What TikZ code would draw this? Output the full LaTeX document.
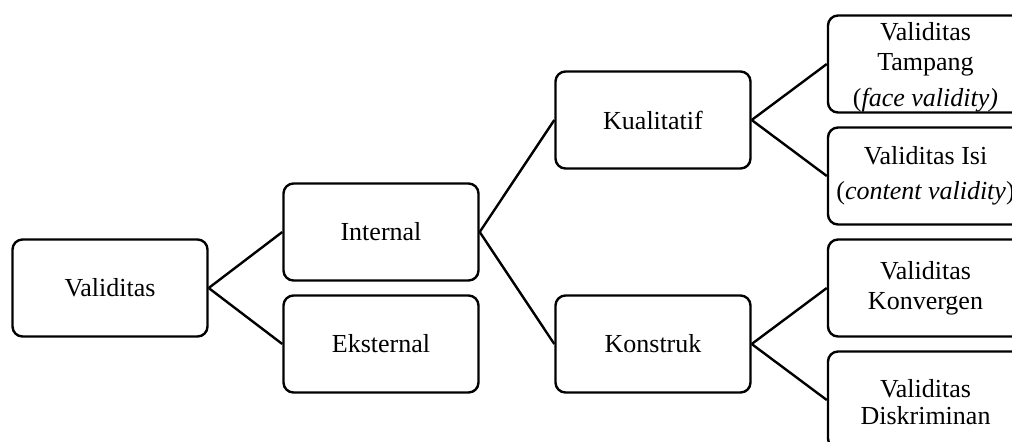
\documentclass[tikz,border=0pt]{standalone}
\usepackage{fontspec}
\setmainfont{Liberation Serif}
\usetikzlibrary{positioning}

\tikzset{
  box/.style={draw, line width=1.2pt, rounded corners=5pt, minimum width=97.5pt,
    minimum height=48.5pt, inner ysep=1pt, align=center,
    font=\fontsize{13}{15}\selectfont},
  link/.style={line width=1.2pt}
}

\begin{document}
\begin{tikzpicture}[x=0.5pt, y=-0.5pt]
    % Frame
    \useasboundingbox (0,0) rectangle (1012,441);
    \clip (0,0) rectangle (1012,441);

    % Boxes
    \node[box] (val) at (110,288) {Validitas};
    \node[box] (int) at (381,232) {Internal};
    \node[box] (eks) at (381,344) {Eksternal};
    \node[box] (kual) at (653,120) {Kualitatif};
    \node[box] (kons) at (653,344) {Konstruk};
    \node[box, inner ysep=0pt] (tampang) at (925.5,64) {\rule{0pt}{12pt}Validitas\\Tampang\\[3pt](\textit{face validity)}};
    \node[box] (isi) at (925.5,176) {Validitas Isi\\[2.5pt](\textit{content validity})};
    \node[box] (konv) at (925.5,288) {Validitas\\Konvergen};
    \node[box] (disk) at (925.5,400) {\rule{0pt}{11pt}Validitas\\[-1.5pt]Diskriminan};

    % Links
    \draw[link] (val.east) -- (int.west);
    \draw[link] (val.east) -- (eks.west);
    \draw[link] (int.east) -- (kual.west);
    \draw[link] (int.east) -- (kons.west);
    \draw[link] (kual.east) -- (tampang.west);
    \draw[link] (kual.east) -- (isi.west);
    \draw[link] (kons.east) -- (konv.west);
    \draw[link] (kons.east) -- (disk.west);
\end{tikzpicture}
\end{document}
